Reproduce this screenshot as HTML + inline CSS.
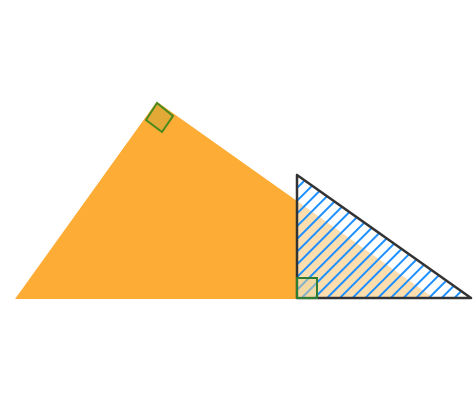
<!DOCTYPE html>
<html><head><meta charset="utf-8"><style>
html,body{margin:0;padding:0;background:#fff;}
svg{display:block;}
</style></head><body>
<svg id="fig" width="474" height="419" viewBox="0 0 474 419" xmlns="http://www.w3.org/2000/svg">
<defs>
<pattern id="hatch" patternUnits="userSpaceOnUse" width="9" height="9" patternTransform="rotate(45 0 0)">
<rect width="9" height="9" fill="rgba(255,255,255,0.6)"/>
<line x1="0" y1="0" x2="0" y2="9" stroke="#1e90ff" stroke-width="4"/>
</pattern>
</defs>
<polygon id="orangeTri" fill="#fdac35" stroke="#fdac35" stroke-width="2"/>
<polygon id="apexMark" points="157,103 146,120 162,132 173,116" fill="#e2a936" stroke="#4a8a1c" stroke-width="2"/>
<polygon id="rightTri" fill="url(#hatch)" stroke="#333" stroke-width="2.5" stroke-linejoin="round"/>
<rect x="297" y="278" width="20" height="20" fill="rgba(230,210,150,0.5)" stroke="#2e7d32" stroke-width="2"/>
</svg>
<script>
const orange = [[17,298],[157,103],[432,298]];
const right = [[297,175],[297,298],[471,298]];
const pts = a => a.map(p => p.join(',')).join(' ');
document.getElementById('orangeTri').setAttribute('points', pts(orange));
document.getElementById('rightTri').setAttribute('points', pts(right));
</script>
</body></html>
